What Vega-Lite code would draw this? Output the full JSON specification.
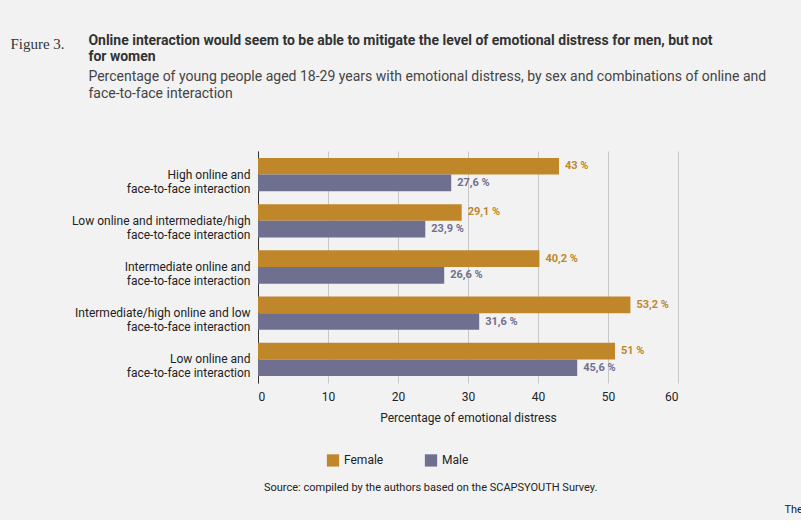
{
  "$schema": "https://vega.github.io/schema/vega-lite/v6.json",
  "background": "#f2f2f2",
  "padding": {"left": 10, "top": 34, "right": 10, "bottom": 5},
  "config": {"view": {"stroke": null}, "font": "Roboto", "concat": {"spacing": 0}},
  "title": {"text": "Figure 3.", "anchor": "start", "frame": "bounds", "offset": -18, "font": "Liberation Serif", "fontSize": 15, "fontWeight": "normal", "color": "#333"},
  "vconcat": [
    {
      "title": {
        "text": ["Online interaction would seem to be able to mitigate the level of emotional distress for men, but not", "for women"],
        "subtitle": ["Percentage of young people aged 18-29 years with emotional distress, by sex and combinations of online and", "face-to-face interaction"],
        "anchor": "start", "frame": "bounds", "dx": 78, "offset": 50,
        "fontSize": 14, "fontWeight": "bold", "color": "#333", "lineHeight": 16,
        "subtitleFontSize": 14, "subtitleColor": "#444", "subtitleLineHeight": 17, "subtitlePadding": 6
      },
      "width": 420,
      "height": 232,
      "data": {"values": [
        {"cat": "High online and|face-to-face interaction", "sex": "Female", "v": 43, "lab": "43 %"},
        {"cat": "High online and|face-to-face interaction", "sex": "Male", "v": 27.6, "lab": "27,6 %"},
        {"cat": "Low online and intermediate/high|face-to-face interaction", "sex": "Female", "v": 29.1, "lab": "29,1 %"},
        {"cat": "Low online and intermediate/high|face-to-face interaction", "sex": "Male", "v": 23.9, "lab": "23,9 %"},
        {"cat": "Intermediate online and|face-to-face interaction", "sex": "Female", "v": 40.2, "lab": "40,2 %"},
        {"cat": "Intermediate online and|face-to-face interaction", "sex": "Male", "v": 26.6, "lab": "26,6 %"},
        {"cat": "Intermediate/high online and low|face-to-face interaction", "sex": "Female", "v": 53.2, "lab": "53,2 %"},
        {"cat": "Intermediate/high online and low|face-to-face interaction", "sex": "Male", "v": 31.6, "lab": "31,6 %"},
        {"cat": "Low online and|face-to-face interaction", "sex": "Female", "v": 51, "lab": "51 %"},
        {"cat": "Low online and|face-to-face interaction", "sex": "Male", "v": 45.6, "lab": "45,6 %"}
      ]},
      "encoding": {
        "y": {"field": "cat", "type": "nominal", "sort": null, "title": " ",
          "scale": {"paddingInner": 0.28, "paddingOuter": 0.15},
          "axis": {"labelExpr": "split(datum.label, '|')", "labelFontSize": 12, "labelColor": "#222", "domainColor": "#333", "ticks": false, "labelPadding": 8, "labelLimit": 250, "titlePadding": 50}},
        "yOffset": {"field": "sex", "type": "nominal"},
        "x": {"field": "v", "type": "quantitative", "scale": {"domain": [0, 60]},
          "title": "Percentage of emotional distress",
          "axis": {"tickCount": 6, "grid": true, "gridColor": "#c8c8c8", "domain": false, "ticks": false, "labelFontSize": 12, "labelColor": "#222", "titleFontSize": 12, "titleFontWeight": "normal", "titleColor": "#222", "titlePadding": 10, "labelPadding": 8}},
        "color": {"field": "sex", "type": "nominal", "title": null,
          "scale": {"domain": ["Female", "Male"], "range": ["#c0872a", "#6f6f8f"]},
          "legend": {"orient": "none", "legendX": 68, "legendY": 302, "direction": "horizontal", "symbolType": "square", "symbolSize": 150, "labelFontSize": 12, "labelColor": "#222", "columnPadding": 40}}
      },
      "layer": [
        {"mark": {"type": "bar", "height": {"band": 1}}},
        {"mark": {"type": "text", "align": "left", "dx": 6, "fontWeight": "bold", "fontSize": 11},
         "encoding": {"text": {"field": "lab"}}}
      ]
    },
    {
      "width": 780, "height": 1,
      "data": {"values": []}, "mark": "point", "encoding": {},
      "title": {"text": "Source: compiled by the authors based on the SCAPSYOUTH Survey.", "orient": "bottom", "anchor": "start", "dx": 6, "fontSize": 11, "fontWeight": "normal", "color": "#222", "offset": 58}
    },
    {
      "width": 780, "height": 1,
      "data": {"values": []}, "mark": "point", "encoding": {},
      "title": {"text": "The Social Observatory of the “la Caixa” Foundation.", "orient": "bottom", "anchor": "end", "fontSize": 11, "fontWeight": "normal", "color": "#222", "offset": 10}
    }
  ]
}
